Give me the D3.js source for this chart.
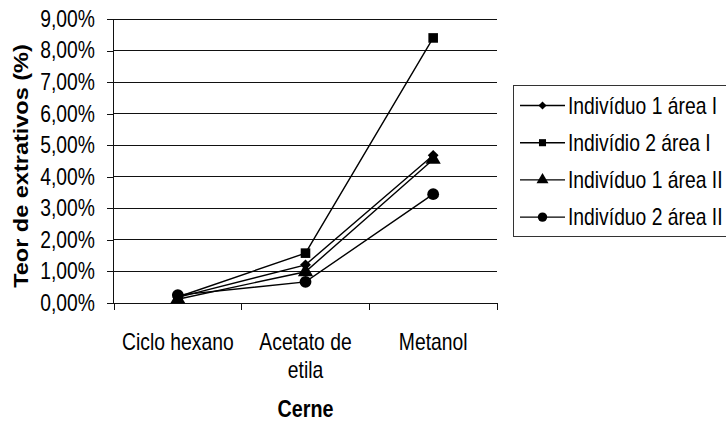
<!DOCTYPE html>
<html>
<head>
<meta charset="utf-8">
<script src="https://cdn.jsdelivr.net/npm/d3@7"></script>
<style>
  html, body { margin: 0; padding: 0; background: #fff; }
  svg { display: block; font-family: "Liberation Sans", Arial, sans-serif; }
</style>
</head>
<body>
<svg id="chart" width="726" height="422"></svg>
<script>
// Extraction solvents (heartwood) and extractive content per individual
const categories = ["Ciclo hexano", "Acetato de etila", "Metanol"];
const categoryLines = [["Ciclo hexano"], ["Acetato de", "etila"], ["Metanol"]];
const seriesNames = ["Indivíduo 1 área I", "Indivídio 2 área I", "Indivíduo 1 área II", "Indivíduo 2 área II"];
const individuo1AreaI = [0.0018, 0.0121, 0.0468];
const individuo2AreaI = [0.0019, 0.0158, 0.0840];
const individuo1AreaII = [0.0012, 0.0099, 0.0455];
const individuo2AreaII = [0.0025, 0.0067, 0.0345];
const yTicks = [0, 0.01, 0.02, 0.03, 0.04, 0.05, 0.06, 0.07, 0.08, 0.09];
const yTitle = "Teor de extrativos (%)";
const xTitle = "Cerne";

const series = [
  { name: seriesNames[0], values: individuo1AreaI, symbol: d3.symbolDiamond2, size: 75, legendSize: 42 },
  { name: seriesNames[1], values: individuo2AreaI, symbol: d3.symbolSquare, size: 92, legendSize: 50 },
  { name: seriesNames[2], values: individuo1AreaII, symbol: d3.symbolTriangle, size: 100, legendSize: 62 },
  { name: seriesNames[3], values: individuo2AreaII, symbol: d3.symbolCircle, size: 110, legendSize: 70 }
];

// Labels use a tall, horizontally condensed Arial-style face
const condense = 0.84;
const labelSize = 23;
const cerneSize = 23.5;
const titleSize = 23.5;

const svg = d3.select("#chart");
const plot = { left: 114, right: 497, top: 19, bottom: 303 };
const ink = "#111";

const x = d3.scaleBand().domain(categories).range([plot.left, plot.right]);
const y = d3.scaleLinear().domain([0, 0.09]).range([plot.bottom, plot.top]);

const ptBR = d3.formatLocale({ decimal: ",", thousands: ".", grouping: [3], currency: ["R$", ""] });
const pct = ptBR.format(".2%");

// Horizontal gridlines
svg.append("g")
  .selectAll("line")
  .data(yTicks.filter(d => d > 0))
  .join("line")
  .attr("x1", plot.left).attr("x2", plot.right)
  .attr("y1", d => y(d)).attr("y2", d => y(d))
  .attr("stroke", ink).attr("stroke-width", 1).attr("shape-rendering", "crispEdges");

// Y axis
const yAxis = svg.append("g")
  .attr("transform", `translate(${plot.left},0)`)
  .call(d3.axisLeft(y).tickValues(yTicks).tickFormat(pct).tickSize(7).tickPadding(12));
yAxis.select(".domain").attr("stroke", ink).attr("d", `M-0.5,${plot.top}V${plot.bottom}`).attr("shape-rendering", "crispEdges");
yAxis.selectAll(".tick line").attr("stroke", ink).attr("shape-rendering", "crispEdges");
yAxis.selectAll(".tick text")
  .attr("font-size", labelSize).attr("fill", "#000")
  .attr("x", 0)
  .attr("transform", `translate(-19,0) scale(${condense},1)`);

// X axis with ticks at category boundaries
const xBase = svg.append("g").attr("transform", `translate(0,${plot.bottom})`);
xBase.append("line")
  .attr("x1", plot.left).attr("x2", plot.right)
  .attr("y1", 0).attr("y2", 0)
  .attr("stroke", ink).attr("shape-rendering", "crispEdges");
const boundaries = categories.map(c => x(c)).concat([x(categories[categories.length - 1]) + x.bandwidth()]);
xBase.selectAll("line.tk")
  .data(boundaries)
  .join("line")
  .attr("class", "tk")
  .attr("x1", d => d).attr("x2", d => d)
  .attr("y1", 0).attr("y2", 7)
  .attr("stroke", ink).attr("shape-rendering", "crispEdges");

// Category labels
const xLabels = svg.append("g");
categories.forEach((c, i) => {
  const t = xLabels.append("text")
    .attr("transform", `translate(${x(c) + x.bandwidth() / 2},350) scale(${condense},1)`)
    .attr("text-anchor", "middle")
    .attr("font-size", labelSize)
    .attr("fill", "#000");
  categoryLines[i].forEach((line, j) => {
    t.append("tspan").attr("x", 0).attr("dy", j === 0 ? 0 : 28).text(line);
  });
});

// Axis titles
svg.append("text")
  .attr("transform", `translate(${(plot.left + plot.right) / 2},417) scale(${condense},1)`)
  .attr("text-anchor", "middle")
  .attr("font-size", cerneSize).attr("font-weight", "bold")
  .text(xTitle);

svg.append("text")
  .attr("transform", `translate(28,${(plot.top + plot.bottom) / 2 + 5}) rotate(-90) scale(1,${condense})`)
  .attr("text-anchor", "middle")
  .attr("font-size", titleSize).attr("font-weight", "bold")
  .text(yTitle);

// Series lines and markers
const cx = c => x(c) + x.bandwidth() / 2;
const line = d3.line().x(d => cx(d.cat)).y(d => y(d.v));

const seriesG = svg.append("g");
series.forEach(s => {
  const pts = s.values.map((v, i) => ({ cat: categories[i], v }));
  seriesG.append("path")
    .datum(pts)
    .attr("d", line)
    .attr("fill", "none")
    .attr("stroke", "#000")
    .attr("stroke-width", 1.4);
});
series.forEach(s => {
  const pts = s.values.map((v, i) => ({ cat: categories[i], v }));
  seriesG.append("g")
    .selectAll("path")
    .data(pts)
    .join("path")
    .attr("transform", d => `translate(${cx(d.cat)},${y(d.v)})`)
    .attr("d", d3.symbol().type(s.symbol).size(s.size))
    .attr("fill", "#000");
});

// Legend
const legend = svg.append("g");
legend.append("rect")
  .attr("x", 513.5).attr("y", 85.5)
  .attr("width", 240).attr("height", 151)
  .attr("fill", "#fff").attr("stroke", "#333").attr("stroke-width", 1);
series.forEach((s, i) => {
  const ly = 105.5 + i * 37.2;
  legend.append("line")
    .attr("x1", 520).attr("x2", 565)
    .attr("y1", ly).attr("y2", ly)
    .attr("stroke", "#000").attr("stroke-width", 1.4);
  legend.append("path")
    .attr("transform", `translate(542.5,${ly})`)
    .attr("d", d3.symbol().type(s.symbol).size(s.legendSize))
    .attr("fill", "#000");
  legend.append("text")
    .attr("transform", `translate(568,${ly}) scale(${condense},1)`)
    .attr("dy", "0.35em")
    .attr("font-size", labelSize)
    .attr("fill", "#000")
    .text(s.name);
});
</script>
</body>
</html>
